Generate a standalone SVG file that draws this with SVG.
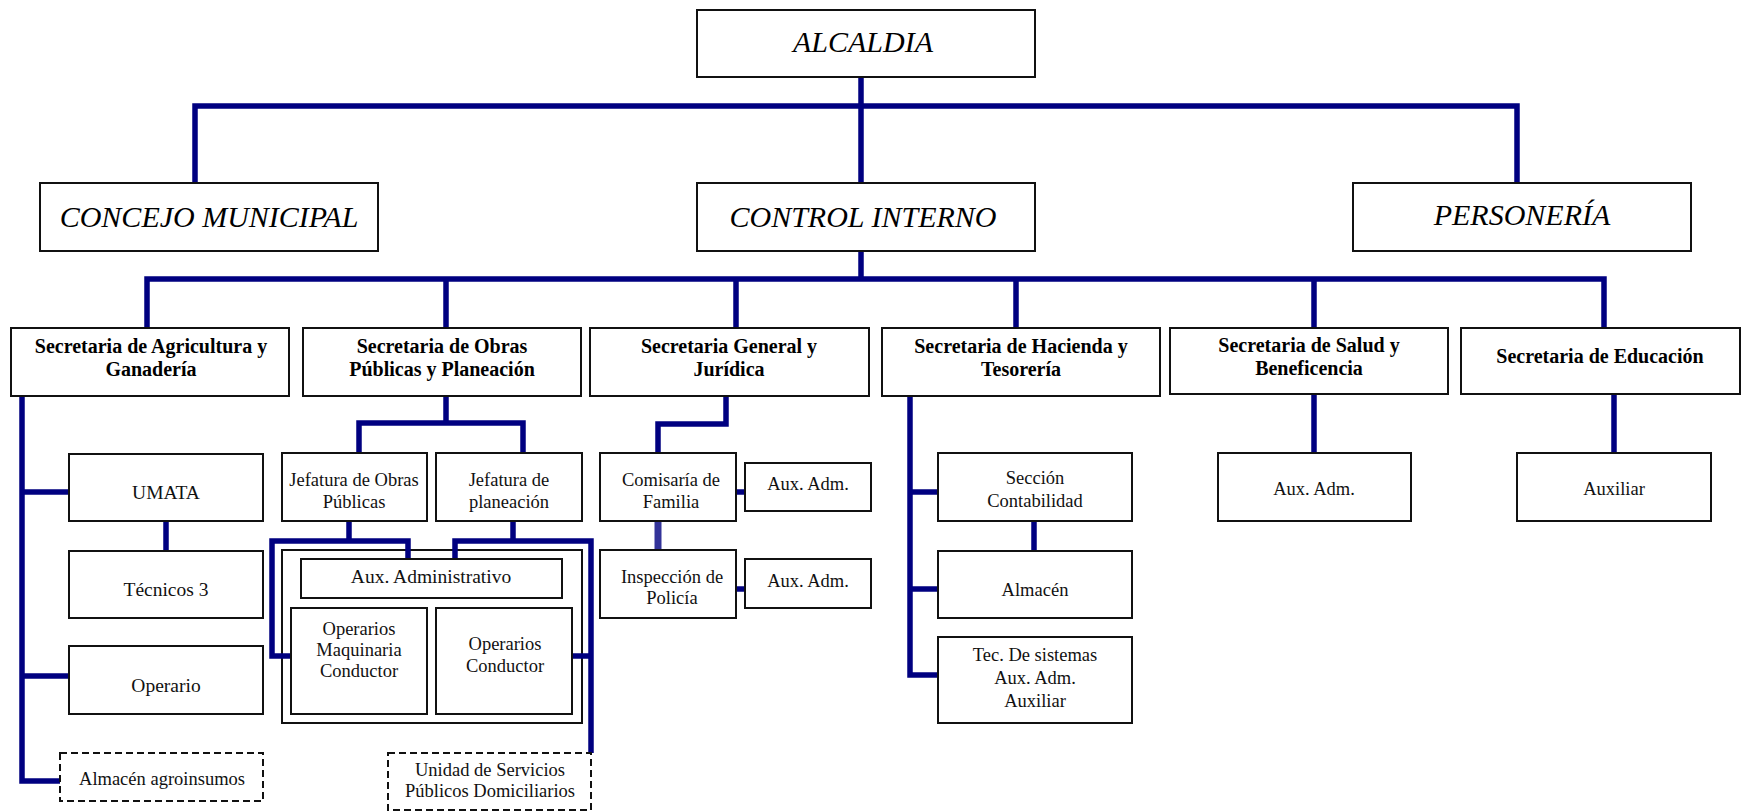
<svg xmlns="http://www.w3.org/2000/svg" width="1746" height="812" viewBox="0 0 1746 812">
<style>
  .box { fill: #ffffff; stroke: #111111; stroke-width: 2; }
  .dash { fill: #ffffff; stroke: #111111; stroke-width: 2; stroke-dasharray: 7,4; }
  .frame { fill: none; stroke: #111111; stroke-width: 2; }
  .conn { fill: none; stroke: #000080; stroke-width: 5.5; stroke-linejoin: miter; stroke-linecap: butt; }
  .conn2 { fill: none; stroke: #333399; stroke-width: 7; }
  .top { font-family: 'Liberation Serif', 'Times New Roman', serif; font-style: italic; font-size: 30px; fill: #000; text-anchor: middle; }
  .sec { font-family: 'Liberation Serif', 'Times New Roman', serif; font-weight: bold; font-size: 20px; fill: #000; text-anchor: middle; }
  .lbl { font-family: 'Liberation Serif', 'Times New Roman', serif; font-size: 18.5px; fill: #111; text-anchor: middle; }
  .lbl2 { font-family: 'Liberation Serif', 'Times New Roman', serif; font-size: 19.5px; fill: #111; text-anchor: middle; }
</style>

<g id="obras-container">
  <rect class="frame" x="282" y="550" width="300" height="173"/>
</g>

<g id="connectors">
  <path class="conn" d="M861,77 V183 M195,183 V106 H1517 V183"/>
  <path class="conn" d="M861,251 V279 M147,328 V279 H1604 V328 M446,279 V328 M736,279 V328 M1016,279 V328 M1314,279 V328"/>
  <path class="conn" d="M22,396 V781 H60 M22,492 H69 M22,676 H69 M166,521 V551"/>
  <path class="conn" d="M446,396 V423 M359,453 V423 H523 V453"/>
  <path class="conn" d="M349,521 V541 M408,559 V541 H272 V656 H291"/>
  <path class="conn" d="M513,521 V541 M455,559 V541 H591 V753 M572,656 H591"/>
  <path class="conn" d="M726,395 V424 H658 V453 M736,492 H745 M736,589 H745"/>
  <path class="conn2" d="M658,521 V550"/>
  <path class="conn" d="M910,395 V675 H938 M910,492 H938 M910,589 H938 M1034,521 V551"/>
  <path class="conn" d="M1314,394 V453 M1614,394 V453"/>
</g>

<g id="alcaldia">
  <rect class="box" x="697" y="10" width="338" height="67"/>
  <text class="top" x="863" y="52">ALCALDIA</text>
</g>
<g id="concejo">
  <rect class="box" x="40" y="183" width="338" height="68"/>
  <text class="top" x="209" y="227">CONCEJO MUNICIPAL</text>
</g>
<g id="control-interno">
  <rect class="box" x="697" y="183" width="338" height="68"/>
  <text class="top" x="863" y="227">CONTROL INTERNO</text>
</g>
<g id="personeria">
  <rect class="box" x="1353" y="183" width="338" height="68"/>
  <text class="top" x="1522" y="225">PERSONERÍA</text>
</g>

<g id="sec-agricultura">
  <rect class="box" x="11" y="328" width="278" height="68"/>
  <text class="sec" x="151" y="353">Secretaria de Agricultura y</text>
  <text class="sec" x="151" y="376">Ganadería</text>
</g>
<g id="sec-obras">
  <rect class="box" x="303" y="328" width="278" height="68"/>
  <text class="sec" x="442" y="353">Secretaria de Obras</text>
  <text class="sec" x="442" y="376">Públicas y Planeación</text>
</g>
<g id="sec-general">
  <rect class="box" x="590" y="328" width="279" height="68"/>
  <text class="sec" x="729" y="353">Secretaria General y</text>
  <text class="sec" x="729" y="376">Jurídica</text>
</g>
<g id="sec-hacienda">
  <rect class="box" x="882" y="328" width="278" height="68"/>
  <text class="sec" x="1021" y="353">Secretaria de Hacienda y</text>
  <text class="sec" x="1021" y="376">Tesorería</text>
</g>
<g id="sec-salud">
  <rect class="box" x="1170" y="328" width="278" height="66"/>
  <text class="sec" x="1309" y="352">Secretaria de Salud y</text>
  <text class="sec" x="1309" y="375">Beneficencia</text>
</g>
<g id="sec-educacion">
  <rect class="box" x="1461" y="328" width="279" height="66"/>
  <text class="sec" x="1600" y="363">Secretaria de Educación</text>
</g>

<g id="umata">
  <rect class="box" x="69" y="454" width="194" height="67"/>
  <text class="lbl2" x="166" y="499">UMATA</text>
</g>
<g id="tecnicos">
  <rect class="box" x="69" y="551" width="194" height="67"/>
  <text class="lbl2" x="166" y="596">Técnicos 3</text>
</g>
<g id="operario">
  <rect class="box" x="69" y="646" width="194" height="68"/>
  <text class="lbl2" x="166" y="692">Operario</text>
</g>
<g id="almacen-agro">
  <rect class="dash" x="60" y="753" width="203" height="48"/>
  <text class="lbl" x="162" y="785">Almacén agroinsumos</text>
</g>

<g id="jef-obras">
  <rect class="box" x="282" y="453" width="145" height="68"/>
  <text class="lbl" x="354" y="486">Jefatura de Obras</text>
  <text class="lbl" x="354" y="508">Públicas</text>
</g>
<g id="jef-planeacion">
  <rect class="box" x="436" y="453" width="146" height="68"/>
  <text class="lbl" x="509" y="486">Jefatura de</text>
  <text class="lbl" x="509" y="508">planeación</text>
</g>
<g id="aux-administrativo">
  <rect class="box" x="301" y="559" width="261" height="39"/>
  <text class="lbl2" x="431" y="583">Aux. Administrativo</text>
</g>
<g id="op-maquinaria">
  <rect class="box" x="291" y="608" width="136" height="106"/>
  <text class="lbl" x="359" y="635">Operarios</text>
  <text class="lbl" x="359" y="656">Maquinaria</text>
  <text class="lbl" x="359" y="677">Conductor</text>
</g>
<g id="op-conductor">
  <rect class="box" x="436" y="608" width="136" height="106"/>
  <text class="lbl" x="505" y="650">Operarios</text>
  <text class="lbl" x="505" y="672">Conductor</text>
</g>
<g id="unidad-servicios">
  <rect class="dash" x="388" y="753" width="203" height="57"/>
  <text class="lbl" x="490" y="776">Unidad de Servicios</text>
  <text class="lbl" x="490" y="797">Públicos Domiciliarios</text>
</g>

<g id="comisaria">
  <rect class="box" x="600" y="453" width="136" height="68"/>
  <text class="lbl" x="671" y="486">Comisaría de</text>
  <text class="lbl" x="671" y="508">Familia</text>
</g>
<g id="aux-adm-comisaria">
  <rect class="box" x="745" y="463" width="126" height="48"/>
  <text class="lbl" x="808" y="490">Aux. Adm.</text>
</g>
<g id="inspeccion">
  <rect class="box" x="600" y="550" width="136" height="68"/>
  <text class="lbl" x="672" y="583">Inspección de</text>
  <text class="lbl" x="672" y="604">Policía</text>
</g>
<g id="aux-adm-inspeccion">
  <rect class="box" x="745" y="559" width="126" height="49"/>
  <text class="lbl" x="808" y="587">Aux. Adm.</text>
</g>

<g id="contabilidad">
  <rect class="box" x="938" y="453" width="194" height="68"/>
  <text class="lbl" x="1035" y="484">Sección</text>
  <text class="lbl" x="1035" y="507">Contabilidad</text>
</g>
<g id="almacen">
  <rect class="box" x="938" y="551" width="194" height="67"/>
  <text class="lbl" x="1035" y="596">Almacén</text>
</g>
<g id="tec-sistemas">
  <rect class="box" x="938" y="637" width="194" height="86"/>
  <text class="lbl" x="1035" y="661">Tec. De sistemas</text>
  <text class="lbl" x="1035" y="684">Aux. Adm.</text>
  <text class="lbl" x="1035" y="707">Auxiliar</text>
</g>

<g id="aux-adm-salud">
  <rect class="box" x="1218" y="453" width="193" height="68"/>
  <text class="lbl" x="1314" y="495">Aux. Adm.</text>
</g>
<g id="auxiliar-educacion">
  <rect class="box" x="1517" y="453" width="194" height="68"/>
  <text class="lbl" x="1614" y="495">Auxiliar</text>
</g>
</svg>
